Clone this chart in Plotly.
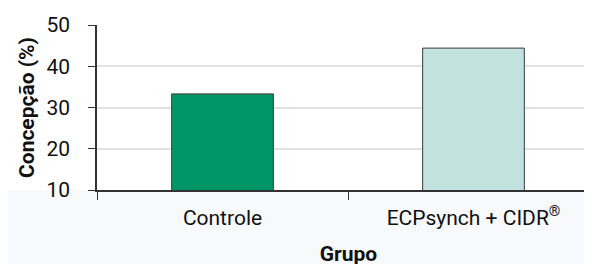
import plotly.graph_objects as go

categories = ["Controle", "ECPsynch + CIDR<sup>®</sup>"]
values = [33.3, 44.4]
bar_colors = ["#009666", "#c2e2e0"]
y_ticks = [10, 20, 30, 40, 50]

FONT = "Roboto, Liberation Sans, sans-serif"

fig = go.Figure()
fig.add_trace(go.Bar(
    x=categories, y=values,
    marker=dict(color=bar_colors, line=dict(color="#3a3a3a", width=1)),
    width=0.405,
))

fig.add_shape(type="rect", xref="paper", yref="paper", x0=-0.3, x1=1.1, y0=-0.6, y1=0,
              fillcolor="#f8f9fa", line=dict(width=0), layer="below")

fig.update_layout(
    width=592, height=264,
    margin=dict(l=89, r=0, t=17, b=82),
    paper_bgcolor="white", plot_bgcolor="rgba(0,0,0,0)",
    font=dict(family=FONT, size=21, color="#111"),
    showlegend=False,
)
fig.update_xaxes(
    range=[-0.5, 1.504],
    showline=True, linecolor="#333", linewidth=1.5,
    ticks="outside", tickson="boundaries", ticklen=8, tickcolor="#333",
    ticklabelstandoff=8,
    showgrid=False,
    title=dict(text="<b>Grupo</b>", font=dict(size=21), standoff=17),
)
fig.update_yaxes(
    range=[10, 50], tickvals=y_ticks,
    showline=True, linecolor="#333", linewidth=1.5,
    ticks="outside", ticklen=7, tickcolor="#333",
    showgrid=True, gridcolor="#e2e2e2", gridwidth=1.5,
    ticklabelstandoff=14,
    zeroline=False,
    title=dict(text="<b>Concepção (%)</b>", font=dict(size=21), standoff=6),
)
fig.write_html("out.html")
